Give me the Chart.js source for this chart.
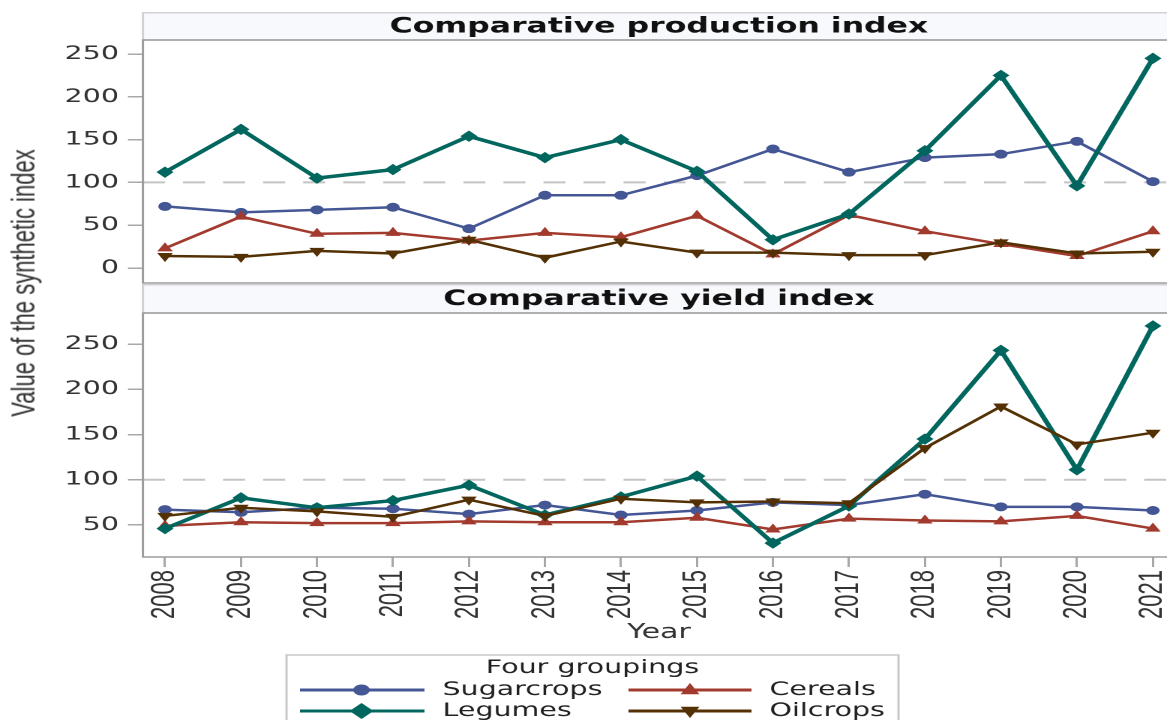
<!DOCTYPE html>
<html>
<head>
<meta charset="utf-8">
<script src="https://cdn.jsdelivr.net/npm/chart.js@4"></script>
<style>
  html, body { margin: 0; padding: 0; background: #fff; overflow: hidden; width: 1167px; height: 720px; }
  /* the reference is stretched sideways, so draw narrow and widen */
  #stage { position: absolute; left: 0; top: 0; width: 800px; height: 720px; transform: scaleX(1.5); transform-origin: 0 0; }
  #stage canvas { position: absolute; left: 0; }
  #prodChart { top: 0; }
  #yieldChart { top: 284px; }
  #yTitle { position: absolute; left: 15.7px; top: 283px; transform: translate(-50%, -50%) rotate(-90deg);
            white-space: nowrap; font: 22px "Liberation Sans Narrow", "Liberation Sans", sans-serif; color: #333; }
</style>
</head>
<body>
<div id="stage">
  <canvas id="prodChart" width="800" height="284"></canvas>
  <canvas id="yieldChart" width="800" height="436"></canvas>
  <div id="yTitle">Value of the synthetic index</div>
</div>
<script>
const years = [2008, 2009, 2010, 2011, 2012, 2013, 2014, 2015, 2016, 2017, 2018, 2019, 2020, 2021];
const groupNames = ['Sugarcrops', 'Cereals', 'Legumes', 'Oilcrops'];

// Comparative production index
const prodSugarcrops = [72, 65, 68, 71, 46, 85, 85, 108, 139, 112, 129, 133, 148, 101];
const prodCereals    = [23, 60, 40, 41, 32, 41, 36, 61, 16, 62, 43, 28, 14, 43];
const prodLegumes    = [112, 162, 105, 115, 154, 129, 150, 113, 33, 63, 137, 225, 96, 245];
const prodOilcrops   = [14, 13, 20, 17, 33, 12, 31, 18, 18, 15, 15, 30, 17, 19];

// Comparative yield index
const yieldSugarcrops = [67, 64, 69, 68, 62, 72, 61, 66, 75, 72, 84, 70, 70, 66];
const yieldCereals    = [49, 53, 52, 52, 54, 53, 53, 58, 45, 57, 55, 54, 60, 46];
const yieldLegumes    = [46, 80, 69, 77, 94, 61, 81, 104, 30, 71, 145, 243, 111, 270];
const yieldOilcrops   = [60, 69, 65, 59, 78, 60, 79, 75, 76, 74, 135, 181, 139, 152];

const yTickValues = [0, 50, 100, 150, 200, 250];
const refValue = 100;

// styling
const groupColors = ['#445694', '#A23A2E', '#01665E', '#543005'];
const markerStyles = ['circle', 'triangle', 'rectRot', 'triangle'];
const markerRotation = [0, 0, 0, 180];
const markerRadius = [4, 5, 5, 5];
const lineWidths = [2.5, 2.5, 3.5, 2.5];
const drawOrder = [4, 3, 2, 1];

const AXIS_W = 95.3;
const RIGHT_PAD = 16.7;
const X_MIN = 2007.71, X_MAX = 2021.29;
const tickFont = { family: '"DejaVu Sans", sans-serif', size: 19 };
const narrowFont = { family: '"Liberation Sans Narrow", "Liberation Sans", sans-serif', size: 22 };

function makeDatasets(seriesList) {
  return seriesList.map((vals, i) => ({
    label: groupNames[i],
    data: years.map((yr, j) => ({ x: yr, y: vals[j] })),
    borderColor: groupColors[i],
    backgroundColor: groupColors[i],
    borderWidth: lineWidths[i],
    pointStyle: markerStyles[i],
    pointRotation: markerRotation[i],
    pointRadius: markerRadius[i],
    pointBorderWidth: 1,
    tension: 0,
    order: drawOrder[i]
  }));
}

// open-ended box: the right side runs past the picture edge
function openBox(ctx, l, t, r, b) {
  ctx.beginPath();
  ctx.moveTo(r + 20, t);
  ctx.lineTo(l, t);
  ctx.lineTo(l, b);
  ctx.lineTo(r + 20, b);
  ctx.stroke();
}

// header band, frame and reference line for one panel
const panelDecor = {
  id: 'panelDecor',
  beforeDatasetsDraw(chart, args, opts) {
    const { ctx, chartArea: a } = chart;
    const y = chart.scales.y.getPixelForValue(refValue);
    ctx.save();
    ctx.strokeStyle = '#c4c4c4';
    ctx.lineWidth = 2;
    ctx.setLineDash([14.7, 12]);
    ctx.beginPath();
    ctx.moveTo(a.left, y);
    ctx.lineTo(a.right, y);
    ctx.stroke();
    ctx.restore();
  },
  afterDraw(chart, args, opts) {
    const { ctx, chartArea: a } = chart;
    ctx.save();
    ctx.fillStyle = '#f8f9fd';
    ctx.fillRect(a.left, opts.headerTop, a.right - a.left + 20, a.top - opts.headerTop);
    ctx.strokeStyle = '#d2d2d2';
    ctx.lineWidth = 1.5;
    openBox(ctx, a.left, opts.headerTop + 0.75, a.right, a.top);
    ctx.strokeStyle = '#9c9c9c';
    openBox(ctx, a.left, a.top, a.right, a.bottom);
    ctx.fillStyle = '#111';
    ctx.font = 'bold 21px "DejaVu Sans", sans-serif';
    ctx.textAlign = 'center';
    ctx.textBaseline = 'middle';
    ctx.fillText(opts.title, (a.left + a.right) / 2, (opts.headerTop + a.top) / 2 + 1);
    ctx.restore();
  }
};

function drawMarker(ctx, style, rot, x, y, r) {
  ctx.beginPath();
  if (style === 'circle') {
    ctx.arc(x, y, r, 0, Math.PI * 2);
  } else if (style === 'rectRot') {
    ctx.moveTo(x, y - r); ctx.lineTo(x + r, y); ctx.lineTo(x, y + r); ctx.lineTo(x - r, y);
  } else {
    const s = rot ? -1 : 1;
    ctx.moveTo(x, y - s * r);
    ctx.lineTo(x + r * 0.9, y + s * r * 0.6);
    ctx.lineTo(x - r * 0.9, y + s * r * 0.6);
  }
  ctx.closePath();
  ctx.fill();
}

// legend box under the lower panel
const groupLegend = {
  id: 'groupLegend',
  afterDraw(chart) {
    const ctx = chart.ctx;
    const top = 371;
    ctx.save();
    ctx.strokeStyle = '#c8c8c8';
    ctx.lineWidth = 1.5;
    ctx.strokeRect(191, top, 408, 80);
    ctx.fillStyle = '#222';
    ctx.font = '19px "DejaVu Sans", sans-serif';
    ctx.textAlign = 'center';
    ctx.textBaseline = 'middle';
    ctx.fillText('Four groupings', 395, top + 13);
    const cols = [{ l0: 200, l1: 283, m: 241, t: 295 }, { l0: 419, l1: 501, m: 460, t: 513 }];
    const rows = [top + 35, top + 56];
    const legendR = [5.5, 7, 8, 7];
    groupNames.forEach((name, i) => {
      const c = cols[i % 2], ry = rows[Math.floor(i / 2)];
      ctx.strokeStyle = groupColors[i];
      ctx.fillStyle = groupColors[i];
      ctx.lineWidth = 3;
      ctx.beginPath();
      ctx.moveTo(c.l0, ry);
      ctx.lineTo(c.l1, ry);
      ctx.stroke();
      drawMarker(ctx, markerStyles[i], markerRotation[i], c.m, ry, legendR[i]);
      ctx.fillStyle = '#222';
      ctx.textAlign = 'left';
      ctx.fillText(name, c.t, ry);
    });
    ctx.restore();
  }
};

function yAxis(min, max) {
  return {
    type: 'linear',
    min: min,
    max: max,
    afterBuildTicks: s => { s.ticks = yTickValues.filter(v => v >= min && v <= max).map(v => ({ value: v })); },
    afterFit: s => { s.width = AXIS_W; s.paddingTop = 0; s.paddingBottom = 0; },
    border: { display: false },
    grid: { drawOnChartArea: false, drawTicks: true, tickLength: 10, color: '#a8a8a8', lineWidth: 1.5 },
    ticks: { font: tickFont, color: '#333', padding: 6 }
  };
}

function xAxis(show) {
  return {
    type: 'linear',
    min: X_MIN,
    max: X_MAX,
    display: show,
    afterBuildTicks: s => { s.ticks = years.map(v => ({ value: v })); },
    afterFit: s => { if (show) s.height = 88; s.paddingLeft = 0; s.paddingRight = 0; },
    border: { display: false },
    grid: { drawOnChartArea: false, drawTicks: true, tickLength: 10, color: '#a8a8a8', lineWidth: 1.5 },
    ticks: { font: narrowFont, color: '#333', padding: 3, autoSkip: false, minRotation: 90, maxRotation: 90, callback: v => String(v) },
    title: { display: show, text: 'Year', font: { family: '"DejaVu Sans", sans-serif', size: 20 }, color: '#333', padding: { top: 0, bottom: 0 } }
  };
}

const common = {
  responsive: false,
  animation: false,
  devicePixelRatio: 2,
  plugins: { legend: { display: false }, tooltip: { enabled: false } }
};

new Chart(document.getElementById('prodChart'), {
  type: 'line',
  data: { datasets: makeDatasets([prodSugarcrops, prodCereals, prodLegumes, prodOilcrops]) },
  options: {
    ...common,
    layout: { autoPadding: false, padding: { top: 40, bottom: 1, left: 0, right: RIGHT_PAD } },
    scales: { x: xAxis(false), y: yAxis(-17.5, 266.4) },
    plugins: { ...common.plugins, panelDecor: { title: 'Comparative production index', headerTop: 12 } }
  },
  plugins: [panelDecor]
});

new Chart(document.getElementById('yieldChart'), {
  type: 'line',
  data: { datasets: makeDatasets([yieldSugarcrops, yieldCereals, yieldLegumes, yieldOilcrops]) },
  options: {
    ...common,
    layout: { autoPadding: false, padding: { top: 29, bottom: 75, left: 0, right: RIGHT_PAD } },
    scales: { x: xAxis(true), y: yAxis(14.6, 284.3) },
    plugins: { ...common.plugins, panelDecor: { title: 'Comparative yield index', headerTop: 0 } }
  },
  plugins: [panelDecor, groupLegend]
});
</script>
</body>
</html>
